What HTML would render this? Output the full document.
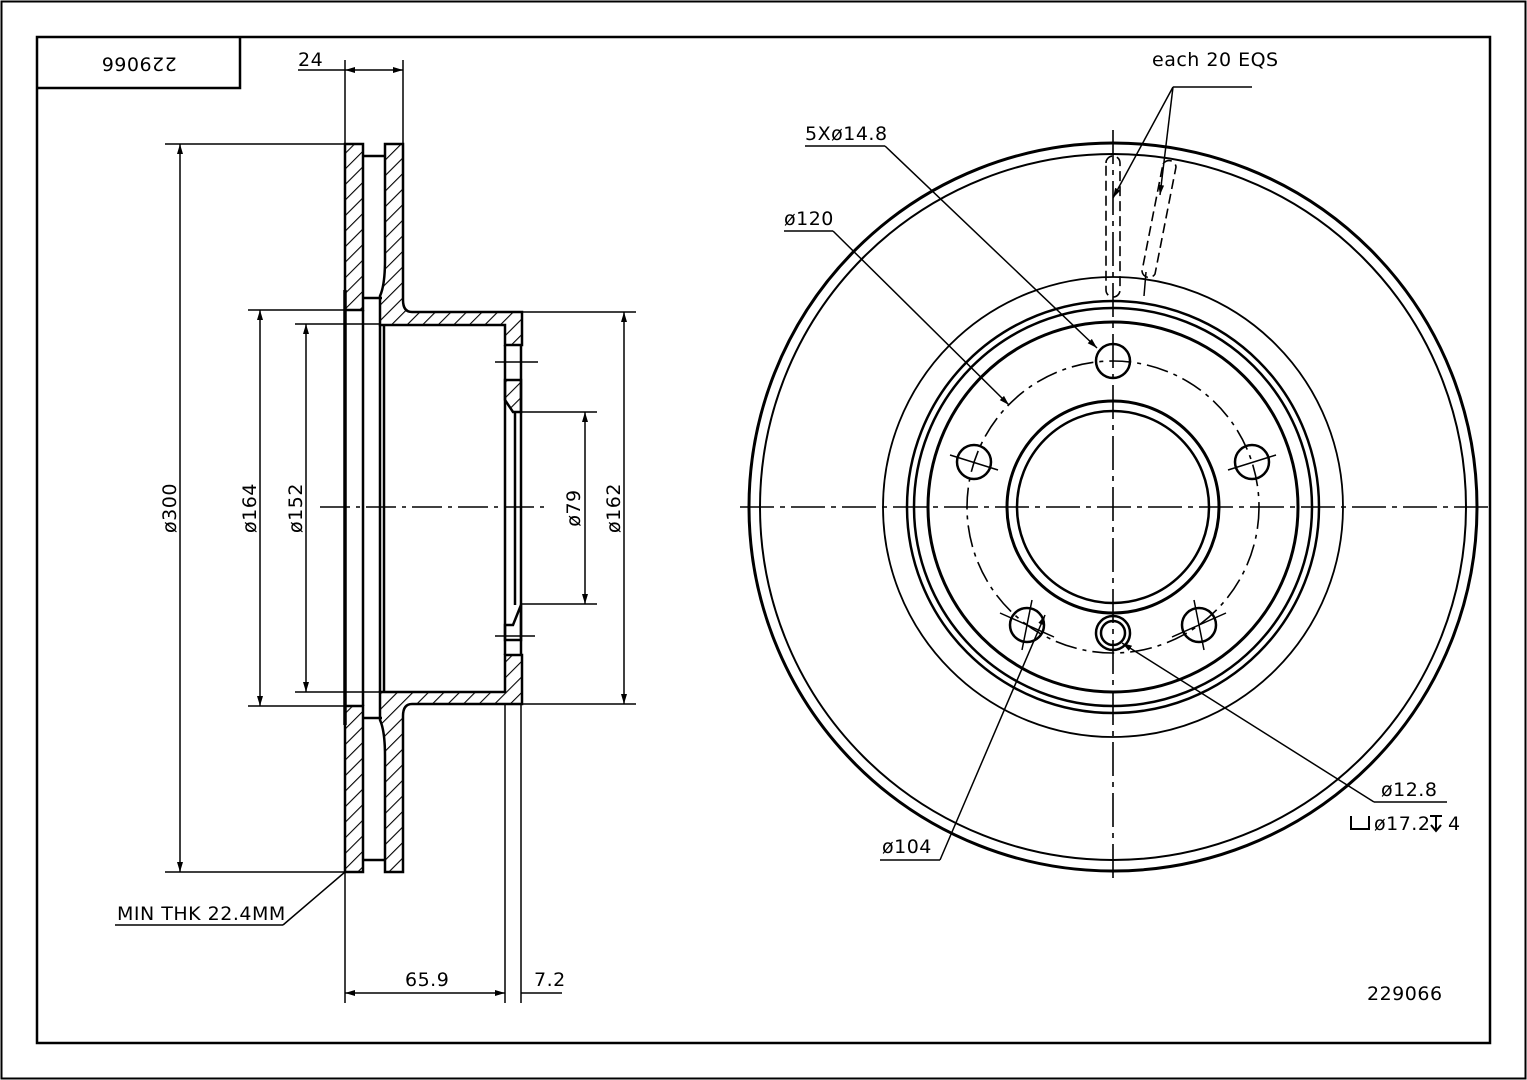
<!DOCTYPE html>
<html><head><meta charset="utf-8"><style>
html,body{margin:0;padding:0;background:#fff;}
svg{display:block;}
text{font-family:"DejaVu Sans","Liberation Sans",sans-serif;font-size:19px;fill:#000;letter-spacing:0.5px;}
</style></head><body>
<svg width="1527" height="1080" viewBox="0 0 1527 1080" xmlns="http://www.w3.org/2000/svg">
<defs>
<pattern id="h" patternUnits="userSpaceOnUse" width="11" height="11" patternTransform="rotate(45)">
<line x1="0" y1="0" x2="0" y2="11" stroke="#000" stroke-width="2.2"/>
</pattern>
<marker id="a" viewBox="0 0 10 10" refX="10" refY="5" markerWidth="10" markerHeight="10" orient="auto-start-reverse" markerUnits="userSpaceOnUse"><path d="M0,2 L10,5 L0,8 z" fill="#000"/></marker>
</defs>
<rect x="1.5" y="1.5" width="1524" height="1077" fill="none" stroke="#000" stroke-width="2"/>
<rect x="37" y="37" width="1453" height="1006" fill="none" stroke="#000" stroke-width="2.5"/>
<polyline points="37,88 240,88 240,37" fill="none" stroke="#000" stroke-width="2.5"/>
<text x="139" y="63" text-anchor="middle" font-size="25" transform="rotate(180 139 63)" dominant-baseline="middle">229066</text>

<g stroke="#000" stroke-width="2.5" fill="url(#h)">
<rect x="345" y="144" width="18" height="166"/>
<rect x="345" y="706" width="18" height="166"/>
<path d="M385,144 H403 V300 Q403,312 412,312 H522 V345 H505 V325 H380 L380,296 Q385,285 385,260 Z"/>
<path d="M385,872 H403 V716 Q403,704 412,704 H522 V655 H505 V692 H380 L380,720 Q385,731 385,756 Z"/>
<path d="M505,380 H521 V412 H513 L505,400 Z"/>
<path d="M505,625 H513 L521,605 V640 H505 Z" fill="none"/>
</g>
<g stroke="#000" stroke-width="2.5" fill="none">
<line x1="363" y1="156" x2="385" y2="156"/><line x1="363" y1="298" x2="382" y2="298"/>
<line x1="363" y1="860" x2="385" y2="860"/><line x1="363" y1="718" x2="382" y2="718"/>
<line x1="345" y1="290" x2="345" y2="725" stroke-width="3.5"/>
<line x1="363" y1="310" x2="363" y2="706"/>
<line x1="380" y1="325" x2="380" y2="692"/>
<line x1="384" y1="325" x2="384" y2="692"/>
<line x1="505" y1="345" x2="505" y2="655"/>
<line x1="521" y1="345" x2="521" y2="655"/>
<line x1="515" y1="412" x2="515" y2="605"/>
</g>
<g stroke="#000" stroke-width="1.5" fill="none">
<line x1="345" y1="60" x2="345" y2="144"/><line x1="403" y1="60" x2="403" y2="144"/>
<line x1="345" y1="70" x2="403" y2="70" marker-start="url(#a)" marker-end="url(#a)"/>
<line x1="298" y1="70" x2="345" y2="70"/>
<line x1="165" y1="144" x2="345" y2="144"/><line x1="165" y1="872" x2="345" y2="872"/>
<line x1="180" y1="144" x2="180" y2="872" marker-start="url(#a)" marker-end="url(#a)"/>
<line x1="248" y1="310" x2="345" y2="310"/><line x1="248" y1="706" x2="345" y2="706"/>
<line x1="260" y1="310" x2="260" y2="706" marker-start="url(#a)" marker-end="url(#a)"/>
<line x1="295" y1="324" x2="380" y2="324"/><line x1="295" y1="692" x2="380" y2="692"/>
<line x1="306" y1="324" x2="306" y2="692" marker-start="url(#a)" marker-end="url(#a)"/>
<line x1="522" y1="312" x2="636" y2="312"/><line x1="522" y1="704" x2="636" y2="704"/>
<line x1="624" y1="312" x2="624" y2="704" marker-start="url(#a)" marker-end="url(#a)"/>
<line x1="521" y1="412" x2="597" y2="412"/><line x1="521" y1="604" x2="597" y2="604"/>
<line x1="585" y1="412" x2="585" y2="604" marker-start="url(#a)" marker-end="url(#a)"/>
<line x1="495" y1="362" x2="538" y2="362"/><line x1="495" y1="636" x2="535" y2="636"/>
<line x1="345" y1="872" x2="345" y2="1003"/><line x1="505" y1="704" x2="505" y2="1003"/><line x1="521" y1="704" x2="521" y2="1003"/>
<line x1="345" y1="993" x2="505" y2="993" marker-start="url(#a)" marker-end="url(#a)"/>
<line x1="521" y1="993" x2="562" y2="993"/>
<line x1="345" y1="872" x2="283" y2="925"/><line x1="283" y1="925" x2="115" y2="925"/>
<line x1="320" y1="507" x2="548" y2="507" stroke-dasharray="30,6,4,6"/>
</g>
<text x="298" y="66">24</text>
<text x="176" y="508" transform="rotate(-90 176 508)" text-anchor="middle">ø300</text>
<text x="256" y="508" transform="rotate(-90 256 508)" text-anchor="middle">ø164</text>
<text x="302" y="508" transform="rotate(-90 302 508)" text-anchor="middle">ø152</text>
<text x="580" y="508" transform="rotate(-90 580 508)" text-anchor="middle">ø79</text>
<text x="620" y="508" transform="rotate(-90 620 508)" text-anchor="middle">ø162</text>
<text x="405" y="986">65.9</text>
<text x="534" y="986">7.2</text>
<text x="117" y="920">MIN THK 22.4MM</text>

<g stroke="#000" fill="none">
<circle cx="1113" cy="507" r="364" stroke-width="3"/>
<circle cx="1113" cy="507" r="353" stroke-width="2"/>
<circle cx="1113" cy="507" r="230" stroke-width="1.8"/>
<circle cx="1113" cy="507" r="206" stroke-width="2.5"/>
<circle cx="1113" cy="507" r="199" stroke-width="2.5"/>
<circle cx="1113" cy="507" r="185" stroke-width="3"/>
<circle cx="1113" cy="507" r="146" stroke-width="1.6" stroke-dasharray="22,6,4,6"/>
<circle cx="1113" cy="507" r="106" stroke-width="3"/>
<circle cx="1113" cy="507" r="96" stroke-width="2.5"/>
<g stroke-width="2.5">
<circle cx="1113" cy="361" r="17"/>
<circle cx="974" cy="462" r="17"/>
<circle cx="1252" cy="462" r="17"/>
<circle cx="1027" cy="625" r="17"/>
<circle cx="1199" cy="625" r="17"/>
<circle cx="1113" cy="633" r="17"/>
<circle cx="1113" cy="633" r="12"/>
</g>
<line x1="740" y1="507" x2="1490" y2="507" stroke-width="1.6" stroke-dasharray="34,6,5,6"/>
<line x1="1113" y1="130" x2="1113" y2="880" stroke-width="1.6" stroke-dasharray="34,6,5,6"/>
<g stroke-width="1.5">
<line x1="950" y1="455" x2="998" y2="470"/><line x1="1228" y1="470" x2="1276" y2="455"/>
<line x1="1000" y1="613" x2="1054" y2="637"/><line x1="1032" y1="600" x2="1022" y2="650"/>
<line x1="1172" y1="637" x2="1226" y2="613"/><line x1="1194" y1="600" x2="1204" y2="650"/>
</g>
<g stroke-width="1.6" stroke-dasharray="10,5">
<path d="M1106,163 a7,7 0 0 1 14,0 V290 a7,7 0 0 1 -14,0 Z"/>
<path d="M1163,164 a7,7 0 0 1 13,3 L1155,274 a7,7 0 0 1 -13,-3 Z"/>
</g>
<line x1="1146" y1="272" x2="1144" y2="296" stroke-width="1.5"/>
<g stroke-width="1.5">
<line x1="1252" y1="87" x2="1173" y2="87"/>
<line x1="1173" y1="87" x2="1113" y2="198" marker-end="url(#a)"/>
<line x1="1173" y1="87" x2="1160" y2="195" marker-end="url(#a)"/>
<line x1="805" y1="146" x2="885" y2="146"/>
<line x1="885" y1="146" x2="1097" y2="348" marker-end="url(#a)"/>
<line x1="784" y1="231" x2="833" y2="231"/>
<line x1="833" y1="231" x2="1009" y2="405" marker-end="url(#a)"/>
<line x1="880" y1="860" x2="940" y2="860"/>
<line x1="940" y1="860" x2="1045" y2="615" marker-end="url(#a)"/>
<line x1="1447" y1="802" x2="1374" y2="802"/>
<line x1="1374" y1="802" x2="1122" y2="643" marker-end="url(#a)"/>
</g>
</g>
<text x="1152" y="66" font-size="21">each 20 EQS</text>
<text x="805" y="140">5Xø14.8</text>
<text x="784" y="225">ø120</text>
<text x="882" y="853">ø104</text>
<text x="1381" y="796">ø12.8</text>
<path d="M1351,816 V829 H1369 V816" fill="none" stroke="#000" stroke-width="2"/>
<text x="1374" y="830">ø17.2</text>
<path d="M1430,816 H1442 M1436,816 V831 M1431,825 L1436,831 L1441,825" fill="none" stroke="#000" stroke-width="2"/>
<text x="1448" y="830">4</text>
<text x="1367" y="1000" font-size="26">229066</text>
</svg>
</body></html>
